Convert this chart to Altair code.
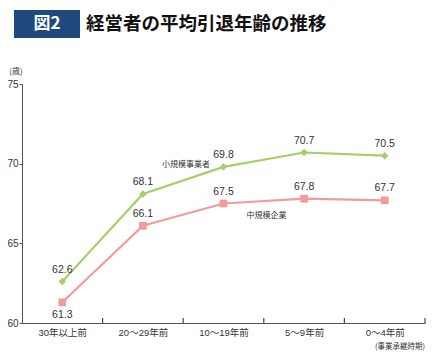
import altair as alt
import pandas as pd

categories = ["30年以上前", "20～29年前", "10～19年前", "5～9年前", "0～4年前"]
small_vals = [62.6, 68.1, 69.8, 70.7, 70.5]
mid_vals = [61.3, 66.1, 67.5, 67.8, 67.7]
series_names = ["小規模事業者", "中規模企業"]

rows = []
for c, v in zip(categories, small_vals):
    rows.append({"cat": c, "val": v, "series": series_names[0]})
for c, v in zip(categories, mid_vals):
    rows.append({"cat": c, "val": v, "series": series_names[1]})
df = pd.DataFrame(rows)

GREEN = "#a6cf68"
PINK = "#f19c9c"
FONT = "Liberation Sans Narrow, Liberation Sans, Noto Sans CJK JP"
CJK = "Noto Sans CJK JP"

W, H = 403, 239

xs = alt.X("cat:N", sort=categories,
           scale=alt.Scale(type="point", padding=0.5),
           axis=alt.Axis(title=None, ticks=False, domain=True, domainColor="#555555",
                         labelFont=FONT, labelFontSize=9.5, labelColor="#333333",
                         labelPadding=4, labelAngle=0, labelAlign="center",
                         labelBaseline="top"))
ys = alt.Y("val:Q", scale=alt.Scale(domain=[60, 75], nice=False, zero=False),
           axis=alt.Axis(title=None, values=[60, 65, 70, 75], grid=False,
                         domainColor="#555555", tickColor="#555555", tickSize=3,
                         labelFont=FONT, labelFontSize=10, labelColor="#333333",
                         labelPadding=1))

base = alt.Chart(df)

lines = base.mark_line(strokeWidth=2.2).encode(
    x=xs, y=ys,
    color=alt.Color("series:N", scale=alt.Scale(domain=series_names, range=[GREEN, PINK]), legend=None),
)

pts_small = base.transform_filter(alt.datum.series == series_names[0]).mark_point(
    shape="diamond", filled=True, size=55, color=GREEN, opacity=1).encode(x=xs, y=ys)
pts_mid = base.transform_filter(alt.datum.series == series_names[1]).mark_square(
    size=60, color=PINK, opacity=1).encode(x=xs, y=ys)

lbl_small = base.transform_filter(alt.datum.series == series_names[0]).mark_text(
    dy=-12, font=FONT, fontSize=10.5, color="#333333").encode(
    x=xs, y=ys, text=alt.Text("val:Q", format=".1f"))

mid_df = df[df.series == series_names[1]]
lbl_mid_up = alt.Chart(mid_df.iloc[1:]).mark_text(
    dy=-12, font=FONT, fontSize=10.5, color="#333333").encode(
    x=xs, y=ys, text=alt.Text("val:Q", format=".1f"))
lbl_mid_dn = alt.Chart(mid_df.iloc[:1]).mark_text(
    dy=13, font=FONT, fontSize=10.5, color="#333333").encode(
    x=xs, y=ys, text=alt.Text("val:Q", format=".1f"))

# boundary ticks pointing up from x-axis
tick_df = pd.DataFrame({"cat": categories, "y0": [60.0] * 5})
tick_marks = alt.Chart(tick_df).mark_tick(
    color="#444444", thickness=1.2, size=5, orient="vertical",
    xOffset=W / 10, yOffset=-2.5, opacity=1).encode(
    x=alt.X("cat:N", sort=categories),
    y=alt.Y("y0:Q"))

# series name labels
name_df = pd.DataFrame({"cat": [categories[1], categories[2]],
                        "val": [69.9, 66.7],
                        "name": series_names})
names = alt.Chart(name_df).mark_text(font=CJK, fontSize=8, color="#333333", xOffset=43).encode(
    x=alt.X("cat:N", sort=categories), y=alt.Y("val:Q"), text="name:N")

unit = alt.Chart(pd.DataFrame({"t": ["(歳)"]})).mark_text(
    font=CJK, fontSize=8, color="#333333", align="center").encode(
    x=alt.value(-6), y=alt.value(-12), text="t:N")

note = alt.Chart(pd.DataFrame({"t": ["(事業承継時期)"]})).mark_text(
    font=CJK, fontSize=7.5, color="#333333", align="right").encode(
    x=alt.value(W), y=alt.value(H + 24), text="t:N")

box = alt.Chart(pd.DataFrame({"a": [1]})).mark_rect(color="#1f497d").encode(
    x=alt.value(-8), x2=alt.value(58), y=alt.value(-74), y2=alt.value(-46))
box_text = alt.Chart(pd.DataFrame({"t": ["図2"]})).mark_text(
    font=CJK, fontSize=17, fontWeight="bold", color="white", align="center", baseline="middle").encode(
    x=alt.value(25), y=alt.value(-60), text="t:N")
title_text = alt.Chart(pd.DataFrame({"t": ["経営者の平均引退年齢の推移"]})).mark_text(
    font=CJK, fontSize=18.5, fontWeight="bold", color="#111111", align="left", baseline="middle").encode(
    x=alt.value(64), y=alt.value(-60), text="t:N")

chart = alt.layer(
    lines, tick_marks, pts_small, pts_mid, lbl_small, lbl_mid_up, lbl_mid_dn, names, unit, note,
    box, box_text, title_text
).properties(
    width=W, height=H,
    autosize=alt.AutoSizeParams(type="none"),
    padding={"left": 14, "top": 76, "right": 14, "bottom": 30},
    background="white",
).configure_view(stroke=None)

chart.save("out.html", embed_options={"renderer": "svg", "actions": False})
